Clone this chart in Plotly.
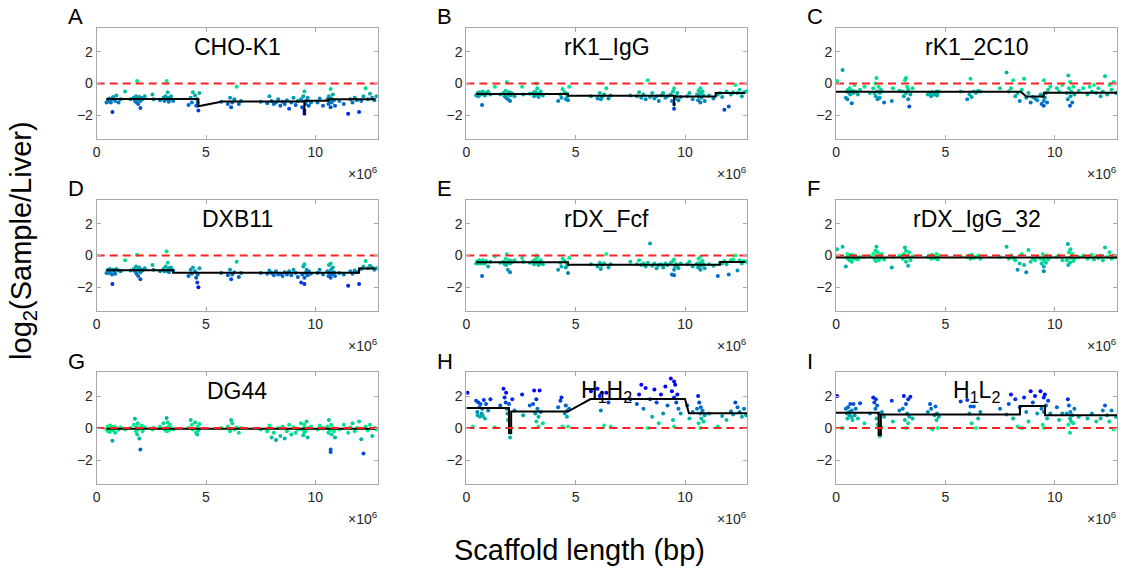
import plotly.graph_objects as go

W, H = 1122, 571

TITLES = ["CHO-K1", "rK1_IgG", "rK1_2C10", "DXB11", "rDX_Fcf", "rDX_IgG_32",
          "DG44", "H<sub>1</sub>H<sub>2</sub>", "H<sub>1</sub>L<sub>2</sub>"]
LETTERS = ["A", "B", "C", "D", "E", "F", "G", "H", "I"]

# probe positions (Mb)
X = [0.05, 0.3, 0.45, 0.5, 0.52, 0.55, 0.6, 0.62, 0.65, 0.7, 0.72, 0.75, 0.8, 0.85, 0.9, 1.0, 1.1,
     1.3, 1.55,
     1.7, 1.75, 1.8, 1.82, 1.85, 1.88, 1.9, 1.95, 2.0, 2.0, 2.05, 2.1, 2.2,
     2.55, 2.6, 2.9,
     3.05, 3.1, 3.15, 3.2, 3.2, 3.25, 3.3, 3.3, 3.35, 3.4, 3.5,
     4.2, 4.3, 4.35, 4.4, 4.5, 4.55, 4.6, 4.62, 4.65, 4.7,
     5.7, 6.0, 6.1, 6.15, 6.2, 6.3, 6.4, 6.5, 6.6,
     7.5, 7.8, 7.9, 8.0, 8.1, 8.2, 8.3, 8.4, 8.5, 8.6, 8.7, 8.8, 8.9, 9.0, 9.1, 9.2,
     9.35, 9.4, 9.45, 9.5, 9.5, 9.5, 9.55, 9.6, 9.65, 9.7, 9.8,
     10.1, 10.2, 10.35,
     10.55, 10.6, 10.62, 10.65, 10.7, 10.7, 10.72, 10.75, 10.8, 10.85, 10.9,
     11.1, 11.3, 11.5, 11.6, 11.7, 11.8, 11.9, 12.0, 12.1, 12.2, 12.3, 12.4, 12.5, 12.6, 12.7, 12.8]

Y_A = [None, None, -1.2, -1.15, -1.0, -1.1, -0.95, -1.05, -1.2, -1.0, -1.8, -0.85, -1.0, -1.1, -0.75, -1.2, -1.0,
       -0.5, -1.0,
       -0.9, -1.1, -0.8, -1.2, 0.15, -1.0, -1.3, -0.85, -1.55, -1.1, -0.9, -1.0, -0.8,
       -0.7, -1.0, -1.05,
       -0.9, -1.1, -0.8, 0.15, -1.0, -0.55, -0.9, -1.15, -1.0, -0.8, -1.1,
       -1.35, -0.9, -1.2, -0.55, -0.75, -1.4, -1.0, -1.2, -1.7, -0.6,
       -1.15, -1.3, -0.9, -1.5, -1.2, -1.0, -0.2, -1.3, -1.1,
       -1.15, -1.25, -0.8, -1.1, -1.3, -1.2, -1.0, -1.4, -1.15, -1.3, -1.05, -1.6, -1.2, -0.9, -1.35, -1.1,
       -1.0, -1.5, -0.8, -0.5, -1.9, -1.7, -1.3, -1.1, -0.9, -1.4, -1.2,
       -1.2, -0.95, -1.4,
       -1.0, -1.3, -0.8, -1.1, -0.35, -1.5, -0.95, -1.2, -0.7, -1.05, -1.4,
       -1.1, -1.3, -1.9, -1.0, -1.2, -0.9, -1.05, -1.8, -1.1, -0.8, -0.3, -1.0, -0.65, -0.9, -1.05, -0.8]

Y_B = [None, None, -0.75, -0.7, -0.6, -0.8, -0.55, -0.65, -0.7, -0.6, -1.35, -0.5, -0.7, -0.75, -0.6, -0.5, -0.7,
       -0.2, -0.7,
       -0.6, -0.8, -0.45, -0.9, 0.1, -0.7, -1.0, -0.55, -1.1, -0.75, -0.6, -0.65, -0.8,
       -0.2, -0.7, -0.65,
       -0.6, -0.8, -0.5, 0.0, -0.7, -0.3, -0.65, -0.85, -0.7, -0.5, -0.75,
       -1.1, -0.7, -0.9, -0.35, -0.55, -1.0, -0.65, -0.8, -1.05, -0.2,
       -0.8, -0.95, -0.6, -1.0, -0.85, -0.7, -0.3, -0.95, -0.75,
       -0.75, -0.8, -0.55, -0.9, -0.7, -1.0, 0.2, -0.85, -0.6, -0.95, -0.8, -1.1, -0.75, -0.6, -0.9, -0.8,
       -0.7, -1.1, -0.5, -0.3, -1.6, -1.3, -0.95, -0.8, -0.6, -1.05, -0.85,
       -0.8, -0.6, -1.0,
       -0.7, -1.05, -0.45, -0.8, -0.3, -1.2, -0.6, -0.9, -0.5, -0.75, -1.1,
       -0.75, -0.95, -0.7, -0.6, -0.85, -1.65, -0.5, -1.45, -0.7, -0.55, -0.1, -0.6, -0.4, -0.8, -0.55, -0.5]

Y_C = [0.15, 0.85, -0.9, -0.5, -1.0, -0.4, -0.6, -0.3, -0.7, -0.5, -1.25, -0.45, -0.6, -0.1, -0.5, -0.7, -0.4,
       -0.2, -0.6,
       -0.3, -0.6, 0.0, -0.8, 0.35, -0.5, -1.0, -0.2, -0.9, -0.6, -0.4, -0.5, -1.2,
       -1.1, -0.3, -0.45,
       -0.5, -0.8, 0.2, 0.35, -0.6, -0.2, -1.0, -0.4, -1.45, -0.7, -0.3,
       -0.7, -0.6, -0.8, -0.55, -0.7, -0.65, -0.5, -0.75, -0.6, -0.5,
       -0.5, -1.0, -0.7, 0.3, -0.85, -0.5, -0.6, -0.45, -0.5,
       -0.3, 0.7, -0.5, -0.3, 0.2, -0.8, -0.6, -1.1, -0.4, 0.3, -0.9, -0.6, -1.2, -0.85, -0.95, -1.05,
       -0.7, -1.3, -0.8, 0.2, -1.4, -1.1, -0.9, -0.6, -1.2, -0.4, -0.2,
       -0.3, -0.5, -0.1,
       -0.6, -1.0, 0.5, -0.3, 0.1, -1.4, -0.8, -0.5, -1.2, -0.2, -0.7,
       -0.45, -0.3, -0.7, -0.2, -0.5, -0.1, -0.6, -0.3, -0.8, -0.5, 0.45, -0.7, -0.1, -0.4, 0.1, -0.6]

Y_D = [None, None, -1.1, -0.95, -0.9, -1.1, -0.85, -1.0, -0.95, -1.2, -1.8, -0.9, -1.0, -1.15, -0.85, -0.95, -1.0,
       -0.3, -0.95,
       -0.85, -1.0, -0.7, -1.15, 0.05, -0.9, -1.3, -0.75, -1.5, -1.05, -0.9, -0.95, -0.8,
       -0.6, -0.9, -1.0,
       -0.85, -1.0, -0.7, 0.27, -0.95, -0.45, -0.8, -1.05, -0.9, -0.75, -0.95,
       -1.3, -0.9, -1.15, -0.75, -1.0, -1.4, -1.7, -1.2, -2.0, -0.8,
       -1.1, -1.25, -0.9, -1.5, -1.2, -1.05, -0.4, -1.35, -1.1,
       -1.1, -1.15, -0.95, -1.1, -1.25, -1.0, -1.2, -1.15, -1.3, -1.05, -1.2, -1.0, -1.25, -0.9, -1.1, -1.35,
       -1.7, -1.2, -0.7, -0.55, -1.8, -1.4, -1.1, -0.9, -1.25, -1.0, -1.15,
       -1.1, -0.9, -1.2,
       -1.0, -1.3, -0.6, -1.1, -0.5, -1.4, -0.9, -1.2, -0.75, -1.05, -1.3,
       -1.1, -1.2, -1.9, -1.0, -1.15, -0.95, -1.05, -1.8, -0.85, -0.7, -0.35, -0.8, -0.65, -0.75, -0.9, -0.8]

Y_E = [None, None, -0.5, -0.4, -0.35, -0.5, -0.3, -0.45, -0.4, -0.5, -1.3, -0.3, -0.45, -0.5, -0.35, -0.7, -0.4,
       -0.05, -0.45,
       -0.4, -0.55, -0.2, -0.6, 0.1, -0.45, -0.9, -0.3, -1.05, -0.5, -0.35, -0.4, -0.3,
       -0.15, -0.4, -0.45,
       -0.35, -0.55, -0.25, 0.0, -0.45, -0.1, -0.4, -0.6, -0.5, -0.3, -0.55,
       -0.9, -0.45, -0.7, -0.2, -0.35, -0.75, -0.5, -0.6, -1.1, -0.15,
       -0.55, -0.7, -0.45, -0.85, -0.6, -0.5, 0.1, -0.75, -0.55,
       -0.4, -0.55, -0.3, -0.6, -0.5, -0.7, -0.45, 0.76, -0.65, -0.5, -0.8, -0.6, -0.55, -0.75, -0.5, -0.6,
       -0.45, -1.2, -0.35, -0.25, -1.25, -0.9, -0.7, -0.55, -0.65, -0.8, -0.5,
       -0.55, -0.4, -0.7,
       -0.5, -0.75, -0.2, -0.6, -0.1, -0.9, -0.45, -0.65, -0.35, -0.55, -0.8,
       -0.55, -0.65, -1.3, -0.45, -0.5, -0.35, -0.55, -1.2, -0.3, -0.25, 0.0, -0.95, -0.3, -0.5, -0.35, -0.4]

Y_F = [0.4, 0.55, -0.7, -0.1, 0.1, -0.2, 0.0, -0.3, -0.1, 0.05, -0.4, -0.15, 0.0, -0.2, -0.05, -0.25, -0.1,
       -0.1, -0.05,
       0.1, -0.2, 0.3, -0.35, 0.55, -0.1, 0.2, -0.3, -0.05, 0.0, -0.15, 0.1, -0.25,
       -0.75, -0.1, 0.0,
       -0.2, 0.1, 0.5, -0.4, 0.3, -0.1, -0.65, 0.0, 0.2, -0.3, -0.05,
       -0.1, 0.0, -0.2, 0.05, -0.15, -0.05, 0.1, -0.1, -0.25, 0.0,
       -0.05, -0.1, 0.0, -0.2, 0.05, -0.15, -0.1, 0.0, -0.2,
       -0.1, 0.55, -0.2, 0.0, -0.15, -0.3, -0.9, -0.5, 0.1, -0.6, -1.05, 0.35, -0.4, -0.2, -0.3, -0.1,
       -0.2, -0.5, 0.1, -1.0, -0.7, -0.3, -0.1, -0.45, 0.0, -0.25, -0.1,
       -0.1, 0.0, -0.3,
       -0.3, 0.72, -0.6, 0.2, -0.15, -0.45, 0.4, -0.1, 0.1, -0.35, -0.2,
       -0.1, 0.0, -0.2, -0.1, 0.05, -0.25, -0.05, -0.15, 0.0, -0.3, 0.5, -0.1, 0.2, -0.2, 0.0, -0.1]

Y_G = [None, None, -0.1, 0.1, -0.2, 0.0, -0.25, 0.15, -0.1, 0.05, -0.8, -0.15, 0.1, -0.3, 0.0, -0.1, 0.05,
       -0.1, 0.0,
       0.2, 0.58, -0.2, 0.1, -0.4, 0.3, -0.1, -0.65, -1.35, 0.0, 0.15, -0.2, 0.05,
       -0.1, 0.0, 0.1,
       0.3, -0.1, 0.0, 0.62, -0.2, 0.35, 0.1, -0.15, 0.2, 0.0, -0.1,
       0.0, 0.5, 0.2, -0.1, 0.35, -0.3, -0.4, 0.1, -0.15, 0.25,
       0.0, 0.1, -0.2, 0.5, 0.3, -0.1, 0.05, -0.3, 0.0,
       -0.1, -0.2, 0.15, -0.6, -0.3, -0.75, 0.0, -0.5, 0.1, -0.65, -0.2, 0.2, -0.4, 0.05, -0.3, -0.1,
       0.3, -0.1, -0.45, 0.2, -0.3, 0.05, -0.2, 0.4, -0.6, 0.0, 0.1,
       -0.1, 0.15, 0.0,
       0.1, -0.3, 0.5, -0.15, -1.35, -1.5, 0.2, -0.4, 0.0, -0.2, -0.6,
       -0.1, 0.2, -0.3, 0.05, 0.3, -0.2, 0.0, 0.4, -0.7, -1.6, 0.1, -0.15, 0.2, -0.5, 0.0, -0.1]

Y_H = [2.2, 0.1, 1.7, 1.0, 0.8, 1.6, 1.3, 0.7, 1.5, 0.9, 1.2, 0.75, 1.75, 0.6, 1.5, 1.1, 1.8,
       0.05, 1.4,
       2.45, 1.9, 1.6, 2.2, 1.2, 0.9, 0.5, 1.5, -0.6, -0.3, 0.0, 1.8, 1.1,
       2.1, 0.8, 1.4,
       1.5, 2.35, 0.9, 1.8, 0.4, 1.2, 0.7, 0.1, 2.35, 1.0, 0.3,
       1.3, 1.7, 1.9, 0.1, 0.9, 1.4, 0.7, 1.1, 0.1, 1.2,
       2.3, 2.45, 2.0, 1.1, 2.2, 0.15, 2.2, 1.6, 0.1,
       1.8, 1.5, 2.1, 2.7, 1.2, 2.5, 0.0, 1.8, 0.7, 2.4, 1.6, 0.3, 2.1, 0.9, 2.6, 1.4,
       3.1, 2.3, 0.5, 2.9, 1.9, 0.1, 2.7, 1.6, 2.1, 1.2, 0.9,
       1.4, 0.6, 1.0,
       1.2, 2.0, 0.3, 1.6, 0.9, 0.0, 1.3, 0.6, 1.1, 0.4, 0.8,
       0.9, None, 0.1, None, 0.75, None, 0.5, None, 1.05, 0.85, 1.6, 1.3, 1.0, 0.7, 1.2, 0.8]

Y_I = [2.0, 0.0, 1.2, 0.9, 0.6, 1.3, 1.0, 0.8, 1.5, 0.7, 1.1, 0.5, 1.5, 0.8, 1.2, 0.6, 1.55,
       0.3, 0.9,
       1.9, 1.6, 1.2, 1.8, 0.6, 1.4, 0.2, 0.9, -0.5, -0.3, 0.1, 1.0, 0.7,
       1.7, 0.4, 1.1,
       1.2, 2.0, 0.5, 1.5, 0.0, 0.9, 0.3, 1.8, 0.7, 1.95, 0.6,
       1.0, 1.5, 1.2, -0.1, 0.8, 1.35, 0.5, 0.9, 0.0, 0.7,
       1.65, 1.75, 0.9, 1.35, 0.3, 1.35, 0.0, 0.6, 1.0,
       1.2, 0.85, 1.5, 2.1, 0.6, 1.8, 0.1, 1.3, 0.0, 1.9, 1.0, 0.4, 2.3, 1.6, 2.0, 0.9,
       2.3, 1.2, 0.2, 1.9, 1.0, 0.0, 2.1, 1.4, 0.6, 1.7, 0.9,
       1.3, 0.5, 0.9,
       0.9, 1.8, 0.2, 1.4, 0.6, -0.3, 1.0, 0.4, 0.8, 0.3, 1.2,
       0.7, None, 0.6, None, 0.9, None, 0.4, None, 0.6, 1.1, 1.4, 0.8, 0.4, 1.1, -0.1, 0.7]

# segmentation lines (Mb, log2 ratio)
SEG_X = [
    [0.45, 4.65, 4.65, 5.75, 9.5, 9.5, 9.5, 10.6, 10.6, 12.75],
    [0.45, 4.65, 4.65, 9.5, 9.5, 9.5, 11.4, 11.4, 12.75],
    [0.0, 8.45, 8.7, 9.5, 9.5, 12.85],
    [0.45, 3.5, 3.5, 12.0, 12.0, 12.75],
    [0.45, 4.65, 4.65, 11.6, 11.6, 12.75],
    [0.0, 12.85],
    [0.45, 12.75],
    [0.0, 1.95, 1.95, 2.05, 2.05, 4.64, 5.68, 10.0, 10.18, 12.85],
    [0.0, 1.95, 1.95, 2.05, 2.05, 8.41, 8.41, 9.56, 9.56, 12.85],
]
SEG_Y = [
    [-0.97, -0.97, -1.44, -1.13, -1.13, -1.96, -1.09, -1.09, -0.99, -0.99],
    [-0.66, -0.66, -0.78, -0.78, -1.44, -0.82, -0.82, -0.6, -0.6],
    [-0.52, -0.52, -0.82, -0.82, -0.58, -0.58],
    [-0.93, -0.93, -1.09, -1.09, -0.82, -0.82],
    [-0.43, -0.43, -0.58, -0.58, -0.41, -0.41],
    [-0.12, -0.12],
    [-0.05, -0.05],
    [1.25, 1.25, -0.32, -0.32, 1.03, 1.03, 1.81, 1.81, 0.92, 0.92],
    [0.96, 0.96, -0.43, -0.43, 0.85, 0.85, 1.37, 1.37, 0.8, 0.8],
]

YS = [Y_A, Y_B, Y_C, Y_D, Y_E, Y_F, Y_G, Y_H, Y_I]
X_RANGE = [0, 12.85]
Y_RANGE = [-3.5, 3.5]

COLS = [(93, 375), (464, 746), (835, 1117)]
ROWS = [(28, 139), (200, 311), (372, 484)]

def px(xp):
    return xp / W

def py(yp):
    return 1 - yp / H

FONT = "Liberation Sans, Arial, Helvetica, sans-serif"
WINTER_R = [[0, "rgb(0,255,128)"], [1, "rgb(0,0,255)"]]
BOX = "#a8a8a8"

fig = go.Figure()
layout = dict(width=W, height=H, margin=dict(l=0, r=0, t=0, b=0),
              paper_bgcolor="white", plot_bgcolor="white", showlegend=False,
              font=dict(family=FONT, color="#262626"))
annotations = []

for i in range(9):
    r, c = divmod(i, 3)
    sfx = "" if i == 0 else str(i + 1)
    xa, ya = "x" + sfx, "y" + sfx
    ys = YS[i]
    xs = [xv for xv, yv in zip(X, ys) if yv is not None]
    yv = [v for v in ys if v is not None]
    fig.add_trace(go.Scatter(
        x=xs, y=yv, xaxis=xa, yaxis=ya, mode="markers",
        marker=dict(size=4, color=[abs(v) for v in yv], colorscale=WINTER_R,
                    cmin=0, cmax=2.2, line=dict(width=0)),
        hoverinfo="skip"))
    fig.add_trace(go.Scatter(
        x=SEG_X[i], y=SEG_Y[i], xaxis=xa, yaxis=ya, mode="lines",
        line=dict(color="black", width=2), hoverinfo="skip"))
    fig.add_trace(go.Scatter(
        x=X_RANGE, y=[0, 0], xaxis=xa, yaxis=ya, mode="lines",
        line=dict(color="#ff2020", width=2, dash="8px,5px"), hoverinfo="skip"))

    x0, x1 = COLS[c]
    y0, y1 = ROWS[r]
    common = dict(showgrid=False, zeroline=False, showline=True, linecolor=BOX,
                  linewidth=1, mirror="ticks", ticks="inside", ticklen=4,
                  tickcolor=BOX, tickfont=dict(size=14, color="#262626", family=FONT))
    layout["xaxis" + sfx] = dict(domain=[px(x0), px(x1)], anchor=ya, range=X_RANGE,
                                 tickvals=[0, 5, 10], **common)
    layout["yaxis" + sfx] = dict(domain=[py(y1), py(y0)], anchor=xa, range=Y_RANGE,
                                 tickvals=[-2, 0, 2], **common)

    annotations.append(dict(text=LETTERS[i], x=px(x0 - 31), y=py(y0 - 11), xref="paper", yref="paper",
                            xanchor="left", yanchor="middle", showarrow=False,
                            font=dict(size=22, color="black", family=FONT)))
    annotations.append(dict(text=TITLES[i], x=px((x0 + x1) / 2), y=py(y0 + 19), xref="paper", yref="paper",
                            xanchor="center", yanchor="middle", showarrow=False,
                            font=dict(size=23, color="black", family=FONT)))
    annotations.append(dict(text="\u00d710<sup>6</sup>", x=px(x1 + 2), y=py(y1 + 34), xref="paper", yref="paper",
                            xanchor="right", yanchor="middle", showarrow=False,
                            font=dict(size=14, color="#262626", family=FONT)))

annotations.append(dict(text="log<sub>2</sub>(Sample/Liver)", x=px(19), y=py(240), xref="paper", yref="paper",
                        xanchor="center", yanchor="middle", textangle=-90, showarrow=False,
                        font=dict(size=29, color="black", family=FONT)))
annotations.append(dict(text="Scaffold length (bp)", x=px(578), y=py(550), xref="paper", yref="paper",
                        xanchor="center", yanchor="middle", showarrow=False,
                        font=dict(size=29, color="black", family=FONT)))
layout["annotations"] = annotations
fig.update_layout(**layout)
fig.write_html("out.html", config={"displayModeBar": False})

# remove the default page margin so the figure sits at the window's top-left corner
with open("out.html", "r", encoding="utf-8") as f:
    html = f.read()
html = html.replace("<body>", '<body style="margin:0;padding:0;overflow:hidden">', 1)
with open("out.html", "w", encoding="utf-8") as f:
    f.write(html)
